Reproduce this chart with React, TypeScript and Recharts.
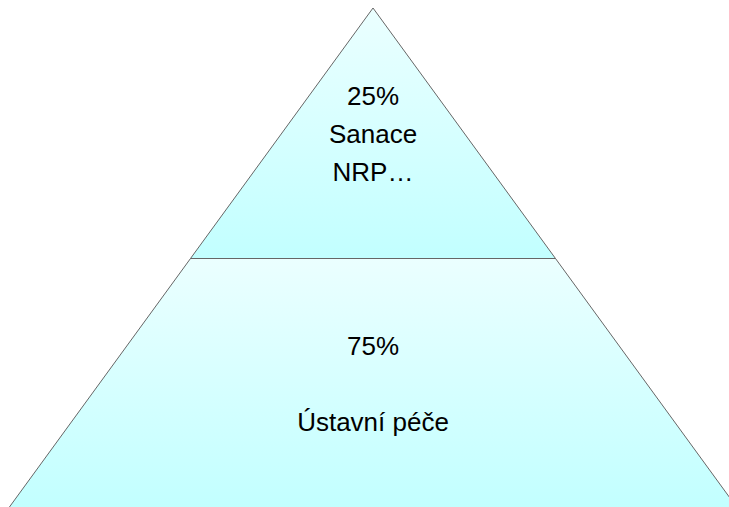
import React from 'react';
import { FunnelChart, Funnel, Trapezoid } from 'recharts';

// Sections listed from the top of the pyramid to the bottom
const categories = ['Sanace NRP…', 'Ústavní péče'];
const shares = [25, 75];
const labelLines = [
  ['25%', 'Sanace', 'NRP…'],
  ['75%', '', 'Ústavní péče'],
];

// Funnel widths: the width at the lower edge of each section grows with the
// square root of the cumulative share (area of a triangle ~ width²).
const rows = categories
  .map((name, i) => {
    const cum = shares.slice(0, i + 1).reduce((a, b) => a + b, 0);
    return { name, share: shares[i], width: Math.sqrt(cum / 100), lines: labelLines[i] };
  })
  .reverse(); // bottom-first, drawn with a reversed funnel

const FONT = 'Liberation Sans, Arial, sans-serif';

const Section = (props: any) => {
  const { x, y, upperWidth, lowerWidth, height, stroke } = props;
  const lines: string[] = props.lines || (props.payload && props.payload.lines) || [];
  const cx = x + upperWidth / 2;
  const cy = y + height / 2;
  const fs = 26;
  const gap = 38;
  return (
    <g>
      <Trapezoid
        x={x}
        y={y}
        upperWidth={upperWidth}
        lowerWidth={lowerWidth}
        height={height}
        fill="url(#pyrFill)"
        stroke={stroke}
        strokeWidth={1}
      />
      {lines.map((t, k) => (
        <text
          key={k}
          x={cx}
          y={cy + (k - (lines.length - 1) / 2) * gap + fs * 0.36}
          textAnchor="middle"
          fontFamily={FONT}
          fontSize={fs}
          fill="#000"
        >
          {t}
        </text>
      ))}
    </g>
  );
};

export default function App() {
  return (
    <div
      style={{
        position: 'fixed',
        left: 0,
        top: 0,
        width: 729,
        height: 507,
        overflow: 'hidden',
        background: '#fff',
      }}
    >
      <div style={{ position: 'absolute', left: 8, top: 8 }}>
        <FunnelChart width={730} height={501} margin={{ top: 0, right: 0, bottom: 0, left: 0 }}>
          <defs>
            <linearGradient id="pyrFill" x1="0" y1="0" x2="0" y2="1">
              <stop offset="0%" stopColor="#ebffff" />
              <stop offset="100%" stopColor="#c2ffff" />
            </linearGradient>
          </defs>
          <Funnel
            data={rows}
            dataKey="width"
            nameKey="name"
            reversed
            lastShapeType="triangle"
            stroke="#666666"
            shape={Section}
            isAnimationActive={false}
          />
        </FunnelChart>
      </div>
    </div>
  );
}
